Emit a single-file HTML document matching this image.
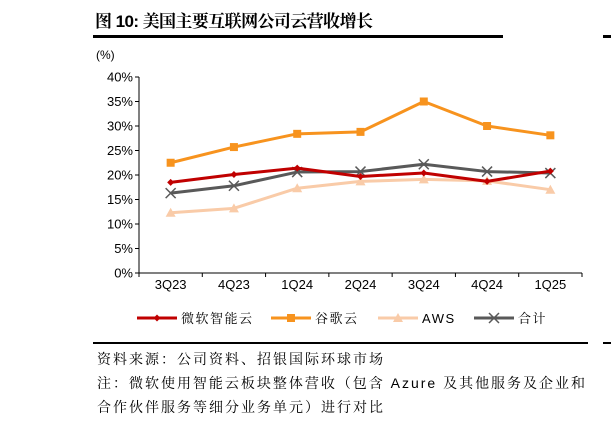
<!DOCTYPE html>
<html><head><meta charset="utf-8"><style>
html,body{margin:0;padding:0;background:#fff;}
body{width:611px;height:424px;overflow:hidden;position:relative;font-family:"Liberation Sans","Noto Serif CJK SC",serif;}
svg{position:absolute;left:0;top:0;}
</style></head><body>
<svg id="chart" width="611" height="424" font-family="Liberation Sans, Noto Sans CJK SC, sans-serif">
<text x="95" y="27" font-size="17" font-weight="bold" fill="#000" font-family="Liberation Sans, Noto Serif CJK SC, serif" textLength="278" lengthAdjust="spacing">图 10: 美国主要互联网公司云营收增长</text>
<rect x="93" y="35" width="410" height="3" fill="#000"/>
<rect x="603" y="35" width="8" height="3" fill="#000"/>
<text x="96" y="59" font-size="12" fill="#000">(%)</text>
<g id="axes"></g>
<g id="series"></g>
<g id="legend"></g>
<rect x="93" y="342" width="495" height="2" fill="#000"/>
<rect x="603" y="342" width="8" height="2" fill="#000"/>
<g font-family="Liberation Sans, Noto Serif CJK SC, serif" font-size="14" fill="#000">
<text x="97" y="364" textLength="286" lengthAdjust="spacing">资料来源：公司资料、招银国际环球市场</text>
<text x="97" y="388" textLength="488" lengthAdjust="spacing">注：微软使用智能云板块整体营收（包含 Azure 及其他服务及企业和</text>
<text x="97" y="412" textLength="286" lengthAdjust="spacing">合作伙伴服务等细分业务单元）进行对比</text>
</g>
</svg>
<script>
const categories = ["3Q23","4Q23","1Q24","2Q24","3Q24","4Q24","1Q25"];
const yTicks = [0,5,10,15,20,25,30,35,40];
const msValues = [18.5,20.1,21.4,19.7,20.4,18.7,20.8];
const googleValues = [22.5,25.7,28.4,28.8,35.0,30.0,28.1];
const awsValues = [12.3,13.2,17.3,18.7,19.1,18.8,17.0];
const totalValues = [16.3,17.8,20.6,20.7,22.2,20.7,20.4];
const seriesNames = ["微软智能云","谷歌云","AWS","合计"];

const NS="http://www.w3.org/2000/svg";
const X0=139, X1=582, Y0=273, Y1=77, YMAX=40;
const step=(X1-X0)/categories.length;
const xPos=i=>X0+step*(i+0.5);
const yPos=v=>Y0-(v/YMAX)*(Y0-Y1);
function mk(tag,attrs,parent){const e=document.createElementNS(NS,tag);for(const k in attrs)e.setAttribute(k,attrs[k]);parent.appendChild(e);return e;}
const axes=document.getElementById('axes');
let l=mk('line',{x1:X0,y1:Y1,x2:X0,y2:Y0,stroke:'#000','stroke-width':1},axes);


l=mk('line',{x1:X0,y1:Y0,x2:X1,y2:Y0,stroke:'#000','stroke-width':1},axes);


yTicks.forEach(v=>{
  const t=mk('line',{x1:X0-4,y1:yPos(v),x2:X0,y2:yPos(v),stroke:'#000'},axes);
  
  
  const tx=mk('text',{x:X0-6,y:yPos(v)+4.5,'font-size':13,'text-anchor':'end',fill:'#000'},axes);
  tx.textContent=v+'%';
  
  
});
for(let i=0;i<=categories.length;i++){
  const t=mk('line',{x1:X0+step*i,y1:Y0,x2:X0+step*i,y2:Y0+4,stroke:'#000'},axes);
  
  
}
categories.forEach((c,i)=>{
  const tx=mk('text',{x:xPos(i),y:Y0+16,'font-size':13,'text-anchor':'middle',fill:'#000'},axes);
  tx.textContent=c;
  
  
});
function marker(g,type,x,y,color){
  let m;
  if(type==='diamond') m=mk('path',{d:`M${x} ${y-3.5}L${x+3.5} ${y}L${x} ${y+3.5}L${x-3.5} ${y}Z`,fill:color},g);
  else if(type==='square') m=mk('rect',{x:x-4,y:y-4,width:8,height:8,fill:color},g);
  else if(type==='triangle') m=mk('path',{d:`M${x} ${y-5}L${x+5} ${y+4}L${x-5} ${y+4}Z`,fill:color},g);
  else m=mk('path',{d:`M${x-5} ${y-5}L${x+5} ${y+5}M${x+5} ${y-5}L${x-5} ${y+5}`,stroke:color,'stroke-width':1.5,fill:'none'},g);
  return m;
}
const cfg=[
 {vals:msValues,color:'#c00000',m:'diamond',key:'microsoft'},
 {vals:googleValues,color:'#f7931e',m:'square',key:'google'},
 {vals:awsValues,color:'#f9cba8',m:'triangle',key:'aws'},
 {vals:totalValues,color:'#595959',m:'cross',key:'total'}
];
const order=[2,1,3,0];
const sg=document.getElementById('series');
order.forEach(k=>{
  const s=cfg[k];
  const g=mk('g',{},sg);
  
  
  const p=mk('polyline',{points:s.vals.map((v,i)=>xPos(i)+','+yPos(v)).join(' '),fill:'none',stroke:s.color,'stroke-width':3,'stroke-linejoin':'round'},g);
  
  
  s.vals.forEach((v,i)=>{
    const m=marker(g,s.m,xPos(i),yPos(v),s.color);
    
    
  });
});
const lg=document.getElementById('legend');
const lx=[137,271,378,474];
cfg.forEach((s,i)=>{
  const g=mk('g',{},lg);
  
  
  mk('line',{x1:lx[i],y1:318,x2:lx[i]+40,y2:318,stroke:s.color,'stroke-width':3},g);
  marker(g,s.m,lx[i]+20,318,s.color);
  const t=mk('text',{x:lx[i]+44,y:323,'font-size':13,fill:'#000','font-family':'Liberation Sans, Noto Serif CJK SC, serif','letter-spacing':'1.5'},g);
  t.textContent=seriesNames[i];
});
</script>
</body></html>
